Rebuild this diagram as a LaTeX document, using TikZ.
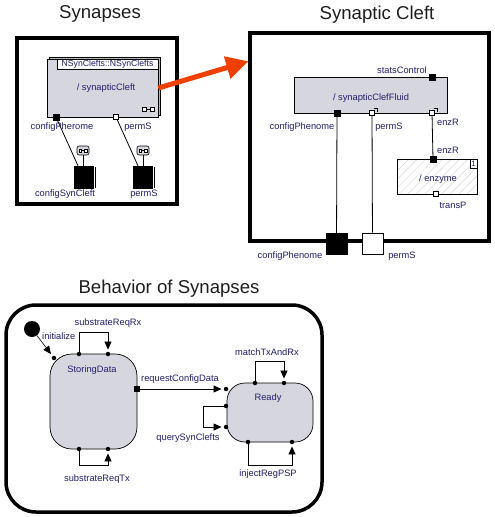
\documentclass[tikz,border=0pt]{standalone}
\usepackage{fontspec}
\setmainfont{Liberation Sans}
\usetikzlibrary{arrows.meta,patterns.meta,calc}
\definecolor{navy}{RGB}{35,30,110}
\definecolor{stgray}{RGB}{214,214,222}
\definecolor{ttl}{RGB}{30,30,30}
\definecolor{redarr}{RGB}{240,64,0}
\begin{document}
\begin{tikzpicture}[x=1pt,y=-1pt,
 lbl/.style={text=navy,font=\fontsize{9.3}{10}\selectfont,inner sep=0pt},
 ttlstyle/.style={text=ttl,font=\fontsize{18.6}{20}\selectfont,inner sep=0pt},
 frame/.style={draw=black,line width=3.5pt,inner sep=0pt},
 pb/.style={draw=black,fill=black,minimum size=5.5pt,inner sep=0pt},
 pw/.style={draw=black,fill=white,minimum size=5.5pt,inner sep=0pt,line width=0.7pt},
 dot/.style={circle,fill=black,minimum size=4.5pt,inner sep=0pt},
 state/.style={draw=black,fill=stgray,line width=0.7pt,inner sep=0pt},
 conn/.style={line width=0.8pt},
 tr/.style={line width=0.8pt,-{Triangle[length=8pt,width=7pt]},shorten >=2pt},
 blk/.style={draw=black,fill=black,inner sep=0pt},
 icon/.style={draw=black,fill=stgray,rounded corners=2pt,minimum width=12pt,minimum height=9pt,inner sep=0pt,line width=0.6pt}
]
\useasboundingbox[fill=white] (0,0) rectangle (495,517);

% titles
\node[ttlstyle] (t1) at (100,14) {Synapses};
\node[ttlstyle] (t2) at (377,15) {Synaptic Cleft};
\node[ttlstyle] (t3) at (169,289) {Behavior of Synapses};

% ---------- Synapses ----------
\node[frame,minimum width=160pt,minimum height=166pt] (synframe) at (97,121) {};
\draw[conn,fill=stgray!85!black] (49,57) rectangle (160,115);
\node[state,minimum width=111pt,minimum height=58pt] (sc) at (102.5,88) {};
\node[draw=black,fill=white,minimum width=101pt,minimum height=10pt,inner sep=0pt,line width=0.7pt,text=navy,font=\fontsize{8.7}{9}\selectfont] (sclbl) at (107.5,64) {NSynClefts::NSynClefts};
\node[lbl] (scname) at (106,88) {/ synapticCleft};
\draw[conn] (146,109.5) -- (151,109.5);
\draw[conn,fill=white] (142,107.5) rectangle (146,111.5);
\draw[conn,fill=white] (150,107.5) rectangle (154,111.5);

\node[pb] (p1) at (56,117) {};
\node[pw] (p2) at (116,117) {};
\node[lbl] (p1l) at (62,127) {configPherome};
\node[lbl] (p2l) at (138,127) {permS};

\node[blk,minimum width=19pt,minimum height=22pt] (cs1) at (83.5,177) {};
\node[blk,minimum width=19pt,minimum height=22pt] (cs2) at (142.5,177) {};
\draw[line width=0.9pt] (95,167) -- (95,188);
\draw[line width=0.9pt] (154,167) -- (154,188);

\node[icon] (ic1) at (83,150.5) {};
\node[icon] (ic2) at (143,150.5) {};
\foreach \c in {83,143}{
  \draw[line width=0.5pt] (\c-2,150.5) -- (\c+2,150.5);
  \draw[line width=0.5pt,fill=white] (\c-4,149) rectangle (\c-1.5,152);
  \draw[line width=0.5pt,fill=white] (\c+1.5,149) rectangle (\c+4,152);
}
\draw[conn] (ic1) -- (ic1 |- cs1.north);
\draw[conn] (ic2) -- (ic2 |- cs2.north);
\draw[conn] (p1) -- ($(cs1.north)+(-5.5,0)$);
\draw[conn] (p2) -- ($(cs2.north)+(-4.5,0)$);
\node[lbl] (cs1l) at (65,194) {configSynCleft};
\node[lbl] (cs2l) at (144,194) {permS};

% ---------- Synaptic Cleft ----------
\node[frame,minimum width=239pt,minimum height=208pt] (cf) at (369.5,137) {};
\draw[redarr,line width=5pt,-{Triangle[length=22pt,width=22pt]}] (sc.east) -- ($(cf.north west)+(0,30)$);

\node[state,minimum width=153pt,minimum height=36pt] (fl) at (370.5,95) {};
\node[lbl] (fll) at (371,98) {/ synapticClefFluid};
\node[pb] (stc) at (432,77) {};
\node[pb] (cp) at (337,113) {};
\node[pw] (ps) at (372,113) {};
\node[pw] (ez) at (432,113) {};
\draw[line width=0.5pt] (374,108.5) -- (377,108.5) -- (377,111.5);
\draw[line width=0.5pt] (434,108.5) -- (437,108.5) -- (437,111.5);
\node[lbl] (stcl) at (402,70) {statsControl};
\node[lbl] (cpl) at (302,127) {configPhenome};
\node[lbl] (psl) at (389,127) {permS};
\node[lbl] (ezl) at (448,122) {enzR};

\node[draw=black,line width=0.7pt,preaction={fill=white},pattern={Lines[angle=45,distance=6pt,line width=0.5pt]},pattern color=black!15,minimum width=80pt,minimum height=35pt,inner sep=0pt] (en) at (437,176.5) {};
\node[lbl] (enl) at (438,179) {/ enzyme};
\node[draw=black,fill=white,line width=0.6pt,minimum width=7pt,minimum height=9pt,inner sep=0pt,text=navy,font=\fontsize{8}{8}\selectfont] (one) at (473.5,163.5) {1};
\node[pb] (ea) at (433,159) {};
\node[pw] (et) at (436,194) {};
\node[lbl] (eal) at (448,150) {enzR};
\node[lbl] (etl) at (453,205) {transP};

\node[blk,minimum width=21pt,minimum height=21pt] (bp1) at (336.5,243.5) {};
\node[draw=black,fill=white,line width=0.7pt,minimum width=21pt,minimum height=21pt,inner sep=0pt] (bp2) at (372.5,243.5) {};
\draw[conn] (cp) -- (bp1);
\draw[conn] (ps) -- (bp2);
\draw[conn] (ez) -- (ea);
\node[lbl] (bp1l) at (290,256) {configPhenome};
\node[lbl] (bp2l) at (402,256) {permS};

% ---------- Behavior ----------
\node[frame,rounded corners=30pt,minimum width=316pt,minimum height=207pt] (bf) at (164,408.5) {};

\node[circle,fill=black,minimum size=16pt,inner sep=0pt] (init) at (32,329) {};
\node[dot] (d0) at (54,358) {};
\draw[tr,line width=0.6pt,shorten >=2.5pt] (init) -- (d0);
\node[lbl,anchor=west] (initl) at (42,336) {initialize};

\node[state,rounded corners=22pt,minimum width=87pt,minimum height=95pt] (sd) at (93.5,401.5) {};
\node[lbl] (sdl) at (92,370) {StoringData};
\node[dot] (s1) at (79,354) {};
\node[dot] (s2) at (108,354) {};
\node[dot] (s3) at (79,449) {};
\node[dot] (s4) at (108,449) {};
\node[pb,minimum size=5pt] (sq) at (137,389) {};
\draw[tr] (s1) -- ++(0,-22) -| (s2);
\draw[tr] (s3) -- ++(0,16) -| (s4);
\node[lbl] (s12l) at (108,323) {substrateReqRx};
\node[lbl] (s34l) at (97,479) {substrateReqTx};

\node[state,rounded corners=18pt,minimum width=86pt,minimum height=59pt] (rd) at (270,412.5) {};
\node[lbl] (rdl) at (268,398) {Ready};
\node[dot] (r1) at (226,389) {};
\draw[tr] (sq) -- (r1);
\node[lbl] (r1l) at (180,379) {requestConfigData};

\node[dot] (m1) at (255,383) {};
\node[dot] (m2) at (284,383) {};
\node[dot] (q1) at (226,406) {};
\node[dot] (q2) at (226,427) {};
\node[dot] (i1) at (248,442) {};
\node[dot] (i2) at (292,442) {};
\draw[tr] (m1) -- ++(0,-22) -| (m2);
\draw[tr] (q1) -- ++(-23,0) |- (q2);
\draw[tr] (i1) -- ++(0,23) -| (i2);
\node[lbl] (ml) at (267,352) {matchTxAndRx};
\node[lbl] (ql) at (188,438) {querySynClefts};
\node[lbl] (il) at (268,474) {injectRegPSP};
\end{tikzpicture}
\end{document}
